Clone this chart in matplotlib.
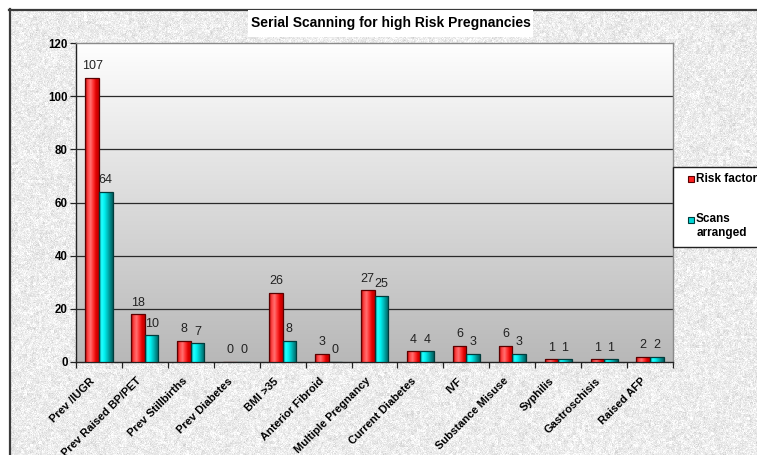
import numpy as np
import matplotlib
matplotlib.use("Agg")
import matplotlib.pyplot as plt
from matplotlib.colors import LinearSegmentedColormap
from matplotlib.patches import Rectangle
from matplotlib.lines import Line2D

plt.rcParams['font.family'] = ['Liberation Sans', 'DejaVu Sans']

categories = ["Prev /IUGR", "Prev Raised BP/PET", "Prev Stillbirths", "Prev Diabetes",
              "BMI >35", "Anterior Fibroid", "Multiple Pregnancy", "Current Diabetes",
              "IVF", "Substance Misuse", "Syphilis", "Gastroschisis", "Raised AFP"]
risk_factors = [107, 18, 8, 0, 26, 3, 27, 4, 6, 6, 1, 1, 2]
scans_arranged = [64, 10, 7, 0, 8, 0, 25, 4, 3, 3, 1, 1, 2]
y_ticks = [0, 20, 40, 60, 80, 100, 120]

W, H = 757, 455


def px(x, y):
    # pixel position (from top-left) -> figure fraction
    return x / W, 1 - y / H


fig = plt.figure(figsize=(W / 100, H / 100), dpi=100)
fig.patch.set_facecolor("white")

# speckled grey backdrop inside the chart frame
bg = fig.add_axes([0, 0, 1, 1], zorder=-5)
rng = np.random.default_rng(7)
tex = 0.925 + 0.035 * rng.standard_normal((H, W))
tex += 0.02 * rng.standard_normal((H // 3 + 1, W // 3 + 1)).repeat(3, 0).repeat(3, 1)[:H, :W]
tex = np.clip(tex, 0.8, 1.0)
tex[:9, :] = 1.0
tex[:, :9] = 1.0
bg.imshow(tex, cmap="gray", vmin=0, vmax=1, aspect="auto", interpolation="nearest")
bg.set_axis_off()

# frame lines (top and left)
fig.add_artist(Line2D([px(9, 0)[0], 1], [px(0, 9.5)[1]] * 2, color="#3a3a3a", lw=1.6))
fig.add_artist(Line2D([px(9.5, 0)[0]] * 2, [px(0, 9)[1], 0], color="#3a3a3a", lw=1.6))

l, t = px(76, 43)
r, b = px(673, 362)
ax = fig.add_axes([l, b, r - l, t - b])

n = len(categories)
x = np.arange(n)
bw = 0.295
ax.set_xlim(-0.5, n - 0.5)
ax.set_ylim(0, 120)

# plot area gradient, white at the top to grey at the bottom
grad = np.linspace(0, 1, 256).reshape(-1, 1)
plot_cmap = LinearSegmentedColormap.from_list("plotbg", ["#b8b8b8", "#fefefe"])
ax.imshow(grad, extent=(-0.5, n - 0.5, 0, 120), origin="lower", aspect="auto",
          cmap=plot_cmap, zorder=0)

for yv in y_ticks[1:-1]:
    ax.axhline(yv, color="#2a2a2a", lw=0.9, zorder=1)

red_cmap = LinearSegmentedColormap.from_list(
    "red", ["#b80000", "#ff4444", "#ff7070", "#ff3030", "#e00000", "#c00000"])
cyan_cmap = LinearSegmentedColormap.from_list(
    "cyan", ["#00c8c8", "#22ffff", "#00f0f0", "#00c0c0", "#008c8c", "#005f5f"])
hgrad = np.linspace(0, 1, 64).reshape(1, -1)

b1 = ax.bar(x - bw / 2, risk_factors, bw, facecolor="none", edgecolor="#5a0000",
            lw=0.9, zorder=4)
b2 = ax.bar(x + bw / 2, scans_arranged, bw, facecolor="none", edgecolor="#003c3c",
            lw=0.9, zorder=4)

for bars, cmap, vals in [(b1, red_cmap, risk_factors), (b2, cyan_cmap, scans_arranged)]:
    for patch, v in zip(bars, vals):
        if v <= 0:
            continue
        x0 = patch.get_x()
        im = ax.imshow(hgrad, extent=(x0, x0 + patch.get_width(), 0, v), aspect="auto",
                       cmap=cmap, zorder=3)
        im.set_clip_path(patch)
    ax.bar_label(bars, labels=[str(v) for v in vals], padding=4, fontsize=9,
                 color="#222222", zorder=5)

ax.set_yticks(y_ticks)
ax.set_yticklabels([str(v) for v in y_ticks], fontsize=8.3, fontweight="bold")
# category labels sit a little left of the group centre
ax.set_xticks(x - 0.2)
ax.set_xticklabels(categories, rotation=45, ha="right", rotation_mode="anchor",
                   fontsize=8, fontweight="bold")
ax.set_xticks(np.arange(-0.5, n), minor=True)
ax.tick_params(axis="x", which="major", length=0, pad=10)
ax.tick_params(axis="x", which="minor", length=4, width=0.9, color="#222222")
ax.tick_params(axis="y", length=4, width=0.9, color="#222222", pad=2)

for side in ["left", "bottom"]:
    ax.spines[side].set_color("#222222")
    ax.spines[side].set_linewidth(1.0)
for side in ["top", "right"]:
    ax.spines[side].set_color("#8a8a8a")
    ax.spines[side].set_linewidth(1.0)

# title on a white box
tx0, ty0 = px(248, 37)
tx1, ty1 = px(533, 10)
fig.add_artist(Rectangle((tx0, ty0), tx1 - tx0, ty1 - ty0, transform=fig.transFigure,
                         facecolor="white", edgecolor="none", zorder=6))
fig.text((tx0 + tx1) / 2, (ty0 + ty1) / 2, "Serial Scanning for high Risk Pregnancies",
         ha="center", va="center", fontsize=10, fontweight="bold", zorder=7)

# legend box
lx0, ly0 = px(673, 247)
lx1, ly1 = px(770, 167)
fig.add_artist(Rectangle((lx0, ly0), lx1 - lx0, ly1 - ly0, transform=fig.transFigure,
                         facecolor="white", edgecolor="#222222", lw=1.0, zorder=6))
for yy, col, ec in [(179, "#ff2020", "#5a0000"), (220, "#00d8d8", "#003c3c")]:
    mx, my = px(688, yy + 3)
    fig.add_artist(Rectangle((mx, my), 6 / W, 6 / H, transform=fig.transFigure,
                             facecolor=col, edgecolor=ec, lw=0.8, zorder=7))
fig.text(*px(696, 179), "Risk factors", ha="left", va="center", fontsize=8.5,
         fontweight="bold", zorder=8)
fig.text(*px(696, 219), "Scans", ha="left", va="center", fontsize=8.5,
         fontweight="bold", zorder=8)
fig.text(*px(697, 233), "arranged", ha="left", va="center", fontsize=8.5,
         fontweight="bold", zorder=8)

fig.savefig("out.png", dpi=100)
